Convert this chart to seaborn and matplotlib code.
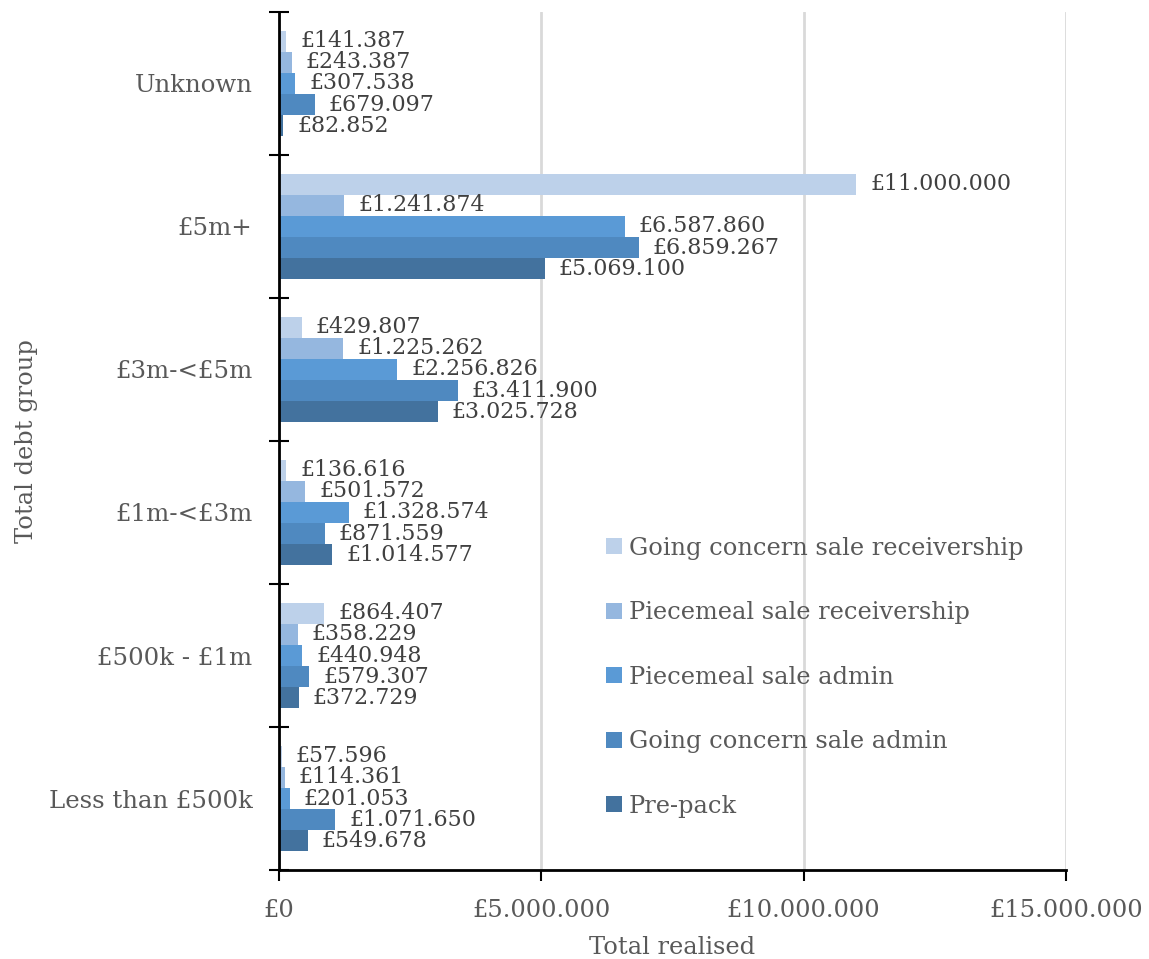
import matplotlib
matplotlib.use("Agg")
import matplotlib.pyplot as plt
import seaborn as sns
import pandas as pd
from matplotlib.ticker import FuncFormatter, FixedLocator

groups = ["Unknown", "£5m+", "£3m-<£5m", "£1m-<£3m", "£500k - £1m", "Less than £500k"]
series = ["Going concern sale receivership", "Piecemeal sale receivership",
          "Piecemeal sale admin", "Going concern sale admin", "Pre-pack"]

going_concern_receivership = [141387, 11000000, 429807, 136616, 864407, 57596]
piecemeal_receivership = [243387, 1241874, 1225262, 501572, 358229, 114361]
piecemeal_admin = [307538, 6587860, 2256826, 1328574, 440948, 201053]
going_concern_admin = [679097, 6859267, 3411900, 871559, 579307, 1071650]
pre_pack = [82852, 5069100, 3025728, 1014577, 372729, 549678]

colors = ["#BDD1EA", "#95B7DF", "#5A9AD6", "#4F89C0", "#43729E"]

values = [going_concern_receivership, piecemeal_receivership, piecemeal_admin,
          going_concern_admin, pre_pack]
rows = []
for s, vals in zip(series, values):
    for g, v in zip(groups, vals):
        rows.append({"group": g, "series": s, "value": v})
df = pd.DataFrame(rows)

sns.set_theme(style="white")
plt.rcParams["font.family"] = ["DejaVu Serif"]

fig = plt.figure(figsize=(11.49, 9.59), dpi=100)
ax = fig.add_axes([0.2428, 0.0928, 0.685, 0.8947])

sns.barplot(data=df, x="value", y="group", hue="series", order=groups,
            hue_order=series, palette=colors, orient="h", width=0.74,
            linewidth=0, saturation=1, ax=ax)

def money(v, pos=None):
    return "£" + f"{int(round(v)):,}".replace(",", ".")

for cont in ax.containers:
    ax.bar_label(cont, labels=[money(b.get_width()) for b in cont],
                 padding=10, fontsize=15.9, color="#404040")

ax.set_xlim(0, 15000000)
ax.set_ylim(len(groups) - 0.5, -0.5)
ax.xaxis.set_major_locator(FixedLocator([0, 5000000, 10000000, 15000000]))
ax.xaxis.set_major_formatter(FuncFormatter(money))
ax.grid(axis="x", color="#D9D9D9", linewidth=2)
ax.set_axisbelow(True)

for side in ["top", "right"]:
    ax.spines[side].set_visible(False)
for side in ["left", "bottom"]:
    ax.spines[side].set_color("black")
    ax.spines[side].set_linewidth(2)

ax.yaxis.set_minor_locator(FixedLocator([i - 0.5 for i in range(len(groups) + 1)]))
ax.tick_params(axis="y", which="major", length=0, pad=19, labelsize=17.6, labelcolor="#595959")
ax.tick_params(axis="y", which="minor", direction="inout", length=14, width=1.5, color="black", left=True)
ax.tick_params(axis="x", which="major", direction="out", length=8, width=1.5, color="black",
               bottom=True, pad=13, labelsize=17.4, labelcolor="#595959")

ax.set_xlabel("Total realised", fontsize=17.4, color="#595959", labelpad=10)
ax.set_ylabel("Total debt group", fontsize=17.4, color="#595959", labelpad=8)

leg = ax.legend(loc="upper left", bbox_to_anchor=(0.388, 0.414), frameon=False,
                fontsize=17.4, labelspacing=1.72, handlelength=0.65, handleheight=0.65,
                handletextpad=0.3)
for t in leg.get_texts():
    t.set_color("#595959")

fig.savefig("out.png", dpi=100)
